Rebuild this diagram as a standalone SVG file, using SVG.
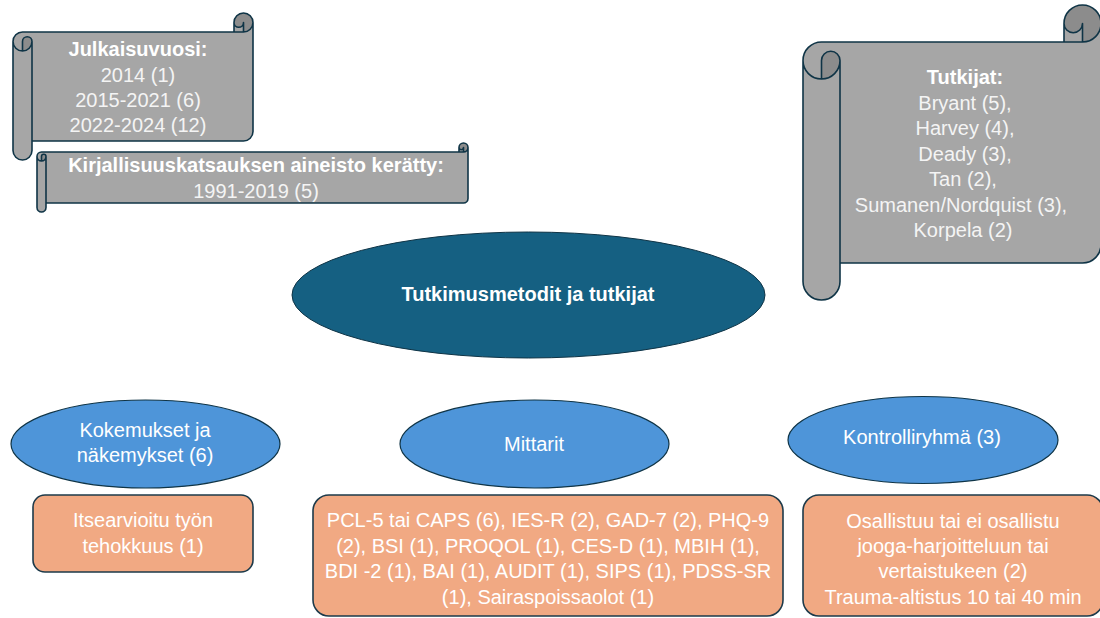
<svg xmlns="http://www.w3.org/2000/svg" width="1100" height="618" viewBox="0 0 1100 618">
<style>
.paper{fill:#a6a6a6;stroke:none}
.curl{fill:#8c8c8c;stroke:none}
.edge{fill:none;stroke:#0f3446;stroke-width:1.6;stroke-linejoin:round}
.t{font-family:"Liberation Sans",Arial,sans-serif;font-size:20px;fill:#f4f4f4;text-anchor:middle}
.b{font-weight:bold;fill:#ffffff}
.main{fill:#156082;stroke:#0f3446;stroke-width:1}
.sub{fill:#4e95d9;stroke:#0f3446;stroke-width:1.2}
.box{fill:#f1a983;stroke:#1d3a4a;stroke-width:1.6}
.w{fill:#ffffff}
</style>
<rect width="1100" height="618" fill="#ffffff"/>
<g id="connectors"/>
<g id="scroll-julkaisuvuosi">
<path class="paper" d="M 253 22.5 A 9.5 9.5 0 0 1 243.5 32 L 243.5 22.5 A 4.75 4.75 0 0 1 234 22.5 L 234 32 L 22.5 32 A 9.5 9.5 0 0 0 13 41.5 L 13 150.5 A 9.5 9.5 0 0 0 32 150.5 L 32 141 L 243.5 141 A 9.5 9.5 0 0 0 253 131.5 Z M 22.5 51 A 9.5 9.5 0 0 0 32 41.5 A 4.75 4.75 0 0 0 22.5 41.5 Z"/>
<path class="curl" d="M 22.5 51 A 9.5 9.5 0 0 0 32 41.5 A 4.75 4.75 0 0 0 22.5 41.5 Z M 243.5 32 A 9.5 9.5 0 1 0 234 22.5 A 4.75 4.75 0 0 0 243.5 22.5 Z"/>
<path class="edge" d="M 13 41.5 A 9.5 9.5 0 0 1 22.5 32 L 234 32 L 234 22.5 A 9.5 9.5 0 0 1 253 22.5 L 253 131.5 A 9.5 9.5 0 0 1 243.5 141 L 32 141 L 32 150.5 A 9.5 9.5 0 0 1 13 150.5 Z M 234 32 L 243.5 32 A 9.5 9.5 0 0 0 253 22.5 M 243.5 32 L 243.5 22.5 A 4.75 4.75 0 0 1 234 22.5 M 22.5 51 L 22.5 41.5 A 4.75 4.75 0 0 1 32 41.5 A 9.5 9.5 0 0 1 13 41.5 M 32 41.5 L 32 141"/>
<text class="t b" x="138" y="56">Julkaisuvuosi:</text>
<text class="t" x="138" y="82">2014 (1)</text>
<text class="t" x="138" y="107">2015-2021 (6)</text>
<text class="t" x="138" y="132">2022-2024 (12)</text>
</g>
<g id="scroll-kirjallisuuskatsaus">
<path class="paper" d="M 468 147.5 A 4.5 4.5 0 0 1 463.5 152 L 463.5 147.5 A 2.25 2.25 0 0 1 459 147.5 L 459 152 L 41.5 152 A 4.5 4.5 0 0 0 37 156.5 L 37 207.5 A 4.5 4.5 0 0 0 46 207.5 L 46 203 L 463.5 203 A 4.5 4.5 0 0 0 468 198.5 Z M 41.5 161 A 4.5 4.5 0 0 0 46 156.5 A 2.25 2.25 0 0 0 41.5 156.5 Z"/>
<path class="curl" d="M 41.5 161 A 4.5 4.5 0 0 0 46 156.5 A 2.25 2.25 0 0 0 41.5 156.5 Z M 463.5 152 A 4.5 4.5 0 1 0 459 147.5 A 2.25 2.25 0 0 0 463.5 147.5 Z"/>
<path class="edge" d="M 37 156.5 A 4.5 4.5 0 0 1 41.5 152 L 459 152 L 459 147.5 A 4.5 4.5 0 0 1 468 147.5 L 468 198.5 A 4.5 4.5 0 0 1 463.5 203 L 46 203 L 46 207.5 A 4.5 4.5 0 0 1 37 207.5 Z M 459 152 L 463.5 152 A 4.5 4.5 0 0 0 468 147.5 M 463.5 152 L 463.5 147.5 A 2.25 2.25 0 0 1 459 147.5 M 41.5 161 L 41.5 156.5 A 2.25 2.25 0 0 1 46 156.5 A 4.5 4.5 0 0 1 37 156.5 M 46 156.5 L 46 203"/>
<text class="t b" x="256" y="172">Kirjallisuuskatsauksen aineisto kerätty:</text>
<text class="t" x="256" y="198">1991-2019 (5)</text>
</g>
<g id="scroll-tutkijat">
<path class="paper" d="M 1101 23.5 A 18.5 18.5 0 0 1 1082.5 42 L 1082.5 23.5 A 9.25 9.25 0 0 1 1064 23.5 L 1064 42 L 821.5 42 A 18.5 18.5 0 0 0 803 60.5 L 803 281.5 A 18.5 18.5 0 0 0 840 281.5 L 840 263 L 1082.5 263 A 18.5 18.5 0 0 0 1101 244.5 Z M 821.5 79 A 18.5 18.5 0 0 0 840 60.5 A 9.25 9.25 0 0 0 821.5 60.5 Z"/>
<path class="curl" d="M 821.5 79 A 18.5 18.5 0 0 0 840 60.5 A 9.25 9.25 0 0 0 821.5 60.5 Z M 1082.5 42 A 18.5 18.5 0 1 0 1064 23.5 A 9.25 9.25 0 0 0 1082.5 23.5 Z"/>
<path class="edge" d="M 803 60.5 A 18.5 18.5 0 0 1 821.5 42 L 1064 42 L 1064 23.5 A 18.5 18.5 0 0 1 1101 23.5 L 1101 244.5 A 18.5 18.5 0 0 1 1082.5 263 L 840 263 L 840 281.5 A 18.5 18.5 0 0 1 803 281.5 Z M 1064 42 L 1082.5 42 A 18.5 18.5 0 0 0 1101 23.5 M 1082.5 42 L 1082.5 23.5 A 9.25 9.25 0 0 1 1064 23.5 M 821.5 79 L 821.5 60.5 A 9.25 9.25 0 0 1 840 60.5 A 18.5 18.5 0 0 1 803 60.5 M 840 60.5 L 840 263"/>
<text class="t b" x="965" y="84">Tutkijat:</text>
<text class="t" x="965" y="109.5">Bryant (5),</text>
<text class="t" x="965" y="135">Harvey (4),</text>
<text class="t" x="965" y="160.5">Deady (3),</text>
<text class="t" x="963" y="186">Tan (2),</text>
<text class="t" x="961" y="211.5">Sumanen/Nordquist (3),</text>
<text class="t" x="963" y="237">Korpela (2)</text>
</g>
<g id="main-topic">
<ellipse class="main" cx="528.5" cy="295" rx="236.5" ry="63"/>
<text class="t b" x="528" y="301">Tutkimusmetodit ja tutkijat</text>
</g>
<g id="kokemukset">
<ellipse class="sub" cx="145.5" cy="444" rx="134.5" ry="44"/>
<text class="t w" x="145" y="437">Kokemukset ja</text>
<text class="t w" x="145" y="462">näkemykset (6)</text>
</g>
<g id="mittarit">
<ellipse class="sub" cx="534.5" cy="444" rx="134.5" ry="44"/>
<text class="t w" x="534" y="451">Mittarit</text>
</g>
<g id="kontrolliryhma">
<ellipse class="sub" cx="923" cy="440" rx="135" ry="43.5"/>
<text class="t w" x="922" y="444">Kontrolliryhmä (3)</text>
</g>
<g id="itsearvioitu">
<rect class="box" x="33" y="495" width="220" height="77" rx="12"/>
<text class="t w" x="143" y="527">Itsearvioitu työn</text>
<text class="t w" x="143" y="553">tehokkuus (1)</text>
</g>
<g id="mittarit-lista">
<rect class="box" x="313" y="495" width="470" height="121" rx="16"/>
<text class="t w" x="548" y="527">PCL-5 tai CAPS (6), IES-R (2), GAD-7 (2), PHQ-9</text>
<text class="t w" x="548" y="552.5">(2), BSI (1), PROQOL (1), CES-D (1), MBIH (1),</text>
<text class="t w" x="548" y="578">BDI -2 (1), BAI (1), AUDIT (1), SIPS (1), PDSS-SR</text>
<text class="t w" x="548" y="603.5">(1), Sairaspoissaolot (1)</text>
</g>
<g id="kontrolliryhma-lista">
<rect class="box" x="803" y="495" width="300" height="121" rx="16"/>
<text class="t w" x="953" y="527.5">Osallistuu tai ei osallistu</text>
<text class="t w" x="953" y="552.5">jooga-harjoitteluun tai</text>
<text class="t w" x="953" y="578">vertaistukeen (2)</text>
<text class="t w" x="953" y="603.5">Trauma-altistus 10 tai 40 min</text>
</g>
</svg>
